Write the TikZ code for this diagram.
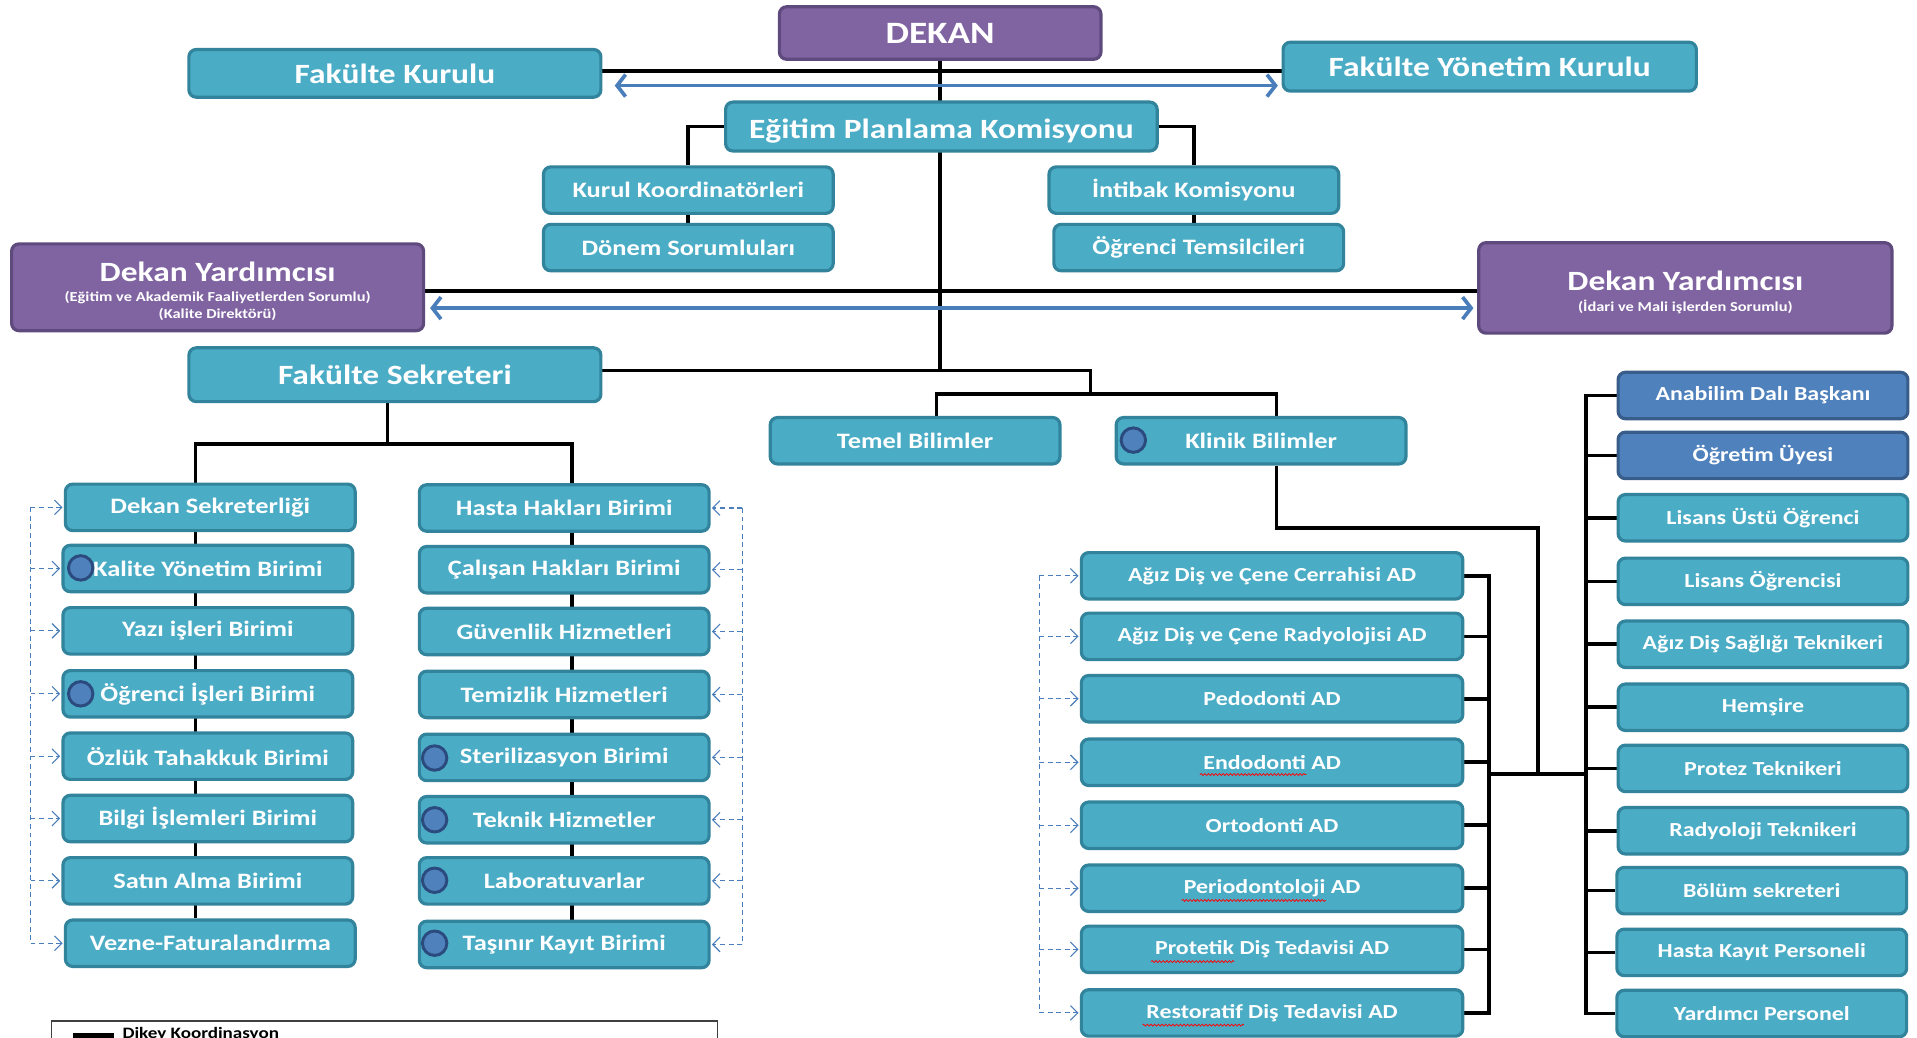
\documentclass[tikz,border=0pt]{standalone}
\usepackage{fontspec}
\setmainfont{Carlito}[FakeStretch=1.2]
\usetikzlibrary{arrows.meta,decorations.pathmorphing,backgrounds}
\definecolor{tealF}{HTML}{4BACC6}
\definecolor{tealD}{HTML}{31849B}
\definecolor{purpF}{HTML}{8064A2}
\definecolor{purpD}{HTML}{5F4A7D}
\definecolor{dbF}{HTML}{4F81BD}
\definecolor{dbD}{HTML}{385D8A}
\definecolor{arrB}{HTML}{4A7EBB}
\definecolor{dotF}{HTML}{4F81BD}
\definecolor{dotD}{HTML}{2B4A7E}
\tikzset{
  boxbase/.style={rounded corners=6pt, line width=2.6pt, inner sep=0pt, align=center, text=white, font=\bfseries},
  tealbox/.style={boxbase, fill=tealF, draw=tealD},
  purpbox/.style={boxbase, fill=purpF, draw=purpD},
  dbbox/.style={boxbase, fill=dbF, draw=dbD},
  bigt/.style={font=\bfseries\fontsize{22.8}{26}\selectfont},
  medt/.style={font=\bfseries\fontsize{18}{21}\selectfont},
  smt/.style={font=\bfseries\fontsize{16.3}{19}\selectfont},
  colbox/.style={tealbox, medt, minimum width=237, minimum height=38},
  adbox/.style={tealbox, smt, minimum width=312, minimum height=38},
  pbox/.style={tealbox, smt, minimum width=237, minimum height=38},
  conn/.style={line width=3pt, black},
  barrow/.style={line width=3pt, arrB, {Straight Barb[length=7pt,width=18pt]}-{Straight Barb[length=7pt,width=18pt]}},
  dline/.style={dash pattern=on 4pt off 3pt, line width=0.9pt, arrB},
  darr/.style={dline, -{Straight Barb[length=6pt,width=12pt]}},
  dotn/.style={circle, fill=dotF, draw=dotD, line width=2.4pt, minimum size=20pt, inner sep=0pt},
  squig/.style={red, line width=0.6pt, decorate, decoration={snake, segment length=3pt, amplitude=0.8pt}}
}
\begin{document}
\begin{tikzpicture}[x=1pt,y=-1pt]
\clip (0,0) rectangle (1568,849);

% top level
\node[purpbox, font=\bfseries\fontsize{25.4}{28}\selectfont, minimum width=263, minimum height=43] (dekan) at (769,27) {DEKAN};
\node[tealbox, bigt, minimum width=337, minimum height=39] (fk) at (323,60) {Fakülte Kurulu};
\node[tealbox, bigt, minimum width=338, minimum height=40] (fyk) at (1218.5,54.5) {Fakülte Yönetim Kurulu};
\node[tealbox, bigt, minimum width=353, minimum height=40] (epk) at (770,103.5) {\raisebox{-10pt}[0pt][0pt]{Eğitim Planlama Komisyonu}};
\node[colbox] (kurul) at (563,155.5) {Kurul Koordinatörleri};
\node[colbox] (donem) at (563,202.5) {Dönem Sorumluları};
\node[colbox] (intibak) at (976.5,155.5) {İntibak Komisyonu};
\node[colbox] (ogrtem) at (980.5,202.5) {Öğrenci Temsilcileri};

\node[purpbox, minimum width=337, minimum height=71] (dyl) at (178,235)
  {{\fontsize{22.8}{24}\selectfont\rule{0pt}{23pt}Dekan Yardımcısı}\\[4pt]{\fontsize{11.2}{12}\selectfont (Eğitim ve Akademik Faaliyetlerden Sorumlu)}\\[2pt]{\fontsize{11.2}{12}\selectfont (Kalite Direktörü)}};
\node[purpbox, minimum width=338, minimum height=74] (dyr) at (1378.5,235.5)
  {{\fontsize{22.8}{24}\selectfont\rule{0pt}{23pt}Dekan Yardımcısı}\\[5pt]{\fontsize{11.2}{12}\selectfont (İdari ve Mali işlerden Sorumlu)}};

\node[tealbox, bigt, minimum width=337, minimum height=44] (fs) at (323,306.5) {Fakülte Sekreteri};
\node[colbox] (temel) at (748.5,360.5) {Temel Bilimler};
\node[colbox] (klinik) at (1031.5,360.5) {Klinik Bilimler};

% left column
\node[colbox] (l1) at (172,415) {Dekan Sekreterliği};
\node[colbox] (l2) at (170,465) {Kalite Yönetim Birimi};
\node[colbox] (l3) at (170,516) {Yazı işleri Birimi};
\node[colbox] (l4) at (170,567.5) {Öğrenci İşleri Birimi};
\node[colbox] (l5) at (170,618.5) {Özlük Tahakkuk Birimi};
\node[colbox] (l6) at (170,669.5) {Bilgi İşlemleri Birimi};
\node[colbox] (l7) at (170,720.5) {Satın Alma Birimi};
\node[colbox] (l8) at (172,771.5) {Vezne-Faturalandırma};

% second column
\node[colbox] (s1) at (461.5,415.5) {Hasta Hakları Birimi};
\node[colbox] (s2) at (461.5,466) {Çalışan Hakları Birimi};
\node[colbox] (s3) at (461.5,516.5) {Güvenlik Hizmetleri};
\node[colbox] (s4) at (461.5,568) {Temizlik Hizmetleri};
\node[colbox] (s5) at (461.5,619.5) {Sterilizasyon Birimi};
\node[colbox] (s6) at (461.5,670.5) {Teknik Hizmetler};
\node[colbox] (s7) at (461.5,720.5) {Laboratuvarlar};
\node[colbox] (s8) at (461.5,772.5) {Taşınır Kayıt Birimi};

% AD column
\node[adbox] (a1) at (1040.5,471) {Ağız Diş ve Çene Cerrahisi AD};
\node[adbox] (a2) at (1040.5,520.5) {Ağız Diş ve Çene Radyolojisi AD};
\node[adbox] (a3) at (1040.5,571.5) {Pedodonti AD};
\node[adbox] (a4) at (1040.5,623.5) {Endodonti AD};
\node[adbox] (a5) at (1040.5,675) {Ortodonti AD};
\node[adbox] (a6) at (1040.5,726.5) {Periodontoloji AD};
\node[adbox] (a7) at (1040.5,776.5) {Protetik Diş Tedavisi AD};
\node[adbox] (a8) at (1040.5,828.5) {Restoratif Diş Tedavisi AD};

% personnel column
\node[dbbox, smt, minimum width=237, minimum height=38] (p1) at (1442,323.5) {Anabilim Dalı Başkanı};
\node[dbbox, smt, minimum width=237, minimum height=38] (p2) at (1442,372.5) {Öğretim Üyesi};
\node[pbox] (p3) at (1442,423.5) {Lisans Üstü Öğrenci};
\node[pbox] (p4) at (1442,475.5) {Lisans Öğrencisi};
\node[pbox] (p5) at (1442,527) {Ağız Diş Sağlığı Teknikeri};
\node[pbox] (p6) at (1442,578.5) {Hemşire};
\node[pbox] (p7) at (1442,628.5) {Protez Teknikeri};
\node[pbox] (p8) at (1442,679.5) {Radyoloji Teknikeri};
\node[pbox] (p9) at (1441,728.5) {Bölüm sekreteri};
\node[pbox] (p10) at (1441,779) {Hasta Kayıt Personeli};
\node[pbox] (p11) at (1441,829) {Yardımcı Personel};

% dots
\node[dotn] (d1) at (66,464.5) {};
\node[dotn] (d2) at (66,567.5) {};
\node[dotn] (d3) at (355.5,620) {};
\node[dotn] (d4) at (355.5,670.5) {};
\node[dotn] (d5) at (355.5,720) {};
\node[dotn] (d6) at (355.5,771.5) {};
\node[dotn] (d7) at (927,360) {};

% connectors
\begin{scope}[on background layer]
\fill[white] (0,0) rectangle (1568,849);
\coordinate (lineA) at (0,58);
\coordinate (lineB) at (0,238);
\coordinate (j1) at (769,303);
\coordinate (j2) at (892,303);
\coordinate (j3) at (892,322);
\coordinate (tx) at (766,0);
\coordinate (kx) at (1044,0);
\coordinate (k2) at (1258,432);
\coordinate (jn) at (1258,633);
\coordinate (busA) at (1218,0);
\coordinate (busB) at (1297,0);
\coordinate (fsx) at (317,363);
\coordinate (lx) at (160,0);
\coordinate (rx) at (468,0);
\draw[conn] (dekan.south) -- (j1);
\draw[conn] (fk.east |- lineA) -- (fyk.west |- lineA);
\draw[conn] (epk.west) -| (kurul.north);
\draw[conn] (epk.east) -| (intibak.north);
\draw[conn] (kurul.south) -- (donem.north);
\draw[conn] (intibak.south) -- (intibak.south |- ogrtem.north);
\draw[conn] (dyl.east |- lineB) -- (dyr.west |- lineB);
\draw[conn] (fs.east |- j1) -- (j2) -- (j3);
\draw[conn] (temel.north -| tx) |- (j3) -| (klinik.north -| kx);
\draw[conn] (klinik.south -| kx) |- (k2) -- (jn);
\draw[conn] (jn -| busA) -- (jn -| busB);
\draw[conn] (a1.east) -| (a8.east -| busA) -- (a8.east);
\foreach \i in {2,...,7} \draw[conn] (a\i.east) -- (a\i.east -| busA);
\draw[conn] (p1.west) -| (p11.west -| busB) -- (p11.west);
\foreach \i in {2,...,10} \draw[conn] (p\i.west) -- (p\i.west -| busB);
\draw[conn] (fs.south -| fsx) -- (fsx);
\draw[conn] (l1.north -| lx) |- (fsx) -| (s1.north -| rx);
\draw[conn] (l1.south -| lx) -- (l8.north -| lx);
\draw[conn] (s1.south -| rx) -- (s8.north -| rx);
\end{scope}

% blue double arrows
\coordinate (arrA) at (0,70);
\coordinate (arrB) at (0,252);
\draw[barrow] ([xshift=10pt]fk.east |- arrA) -- ([xshift=-3pt]fyk.west |- arrA);
\draw[barrow] ([xshift=4pt]dyl.east |- arrB) -- ([xshift=-3pt]dyr.west |- arrB);

% dashed coordination arrows
\coordinate (dl) at (25,0);
\coordinate (dr) at (607,0);
\coordinate (da) at (850,0);
\draw[dline] (l1.west -| dl) -- (l8.west -| dl);
\foreach \i in {1,...,8} \draw[darr] (l\i.west -| dl) -- ([xshift=-1pt]l\i.west);
\draw[dline] (s1.east -| dr) -- (s8.east -| dr);
\foreach \i in {1,...,8} \draw[darr] (s\i.east -| dr) -- ([xshift=1pt]s\i.east);
\draw[dline] (a1.west -| da) -- (a8.west -| da);
\foreach \i in {1,...,8} \draw[darr] (a\i.west -| da) -- ([xshift=-1pt]a\i.west);

% spelling marks
\draw[squig] ([xshift=-59pt,yshift=-10pt]a4.center) -- ([xshift=28pt,yshift=-10pt]a4.center);
\draw[squig] ([xshift=-74pt,yshift=-10pt]a6.center) -- ([xshift=44pt,yshift=-10pt]a6.center);
\draw[squig] ([xshift=-99pt,yshift=-10pt]a7.center) -- ([xshift=-31pt,yshift=-10pt]a7.center);
\draw[squig] ([xshift=-106pt,yshift=-10pt]a8.center) -- ([xshift=-23pt,yshift=-10pt]a8.center);

% legend (cut off by the picture's lower edge)
\draw[line width=1.2pt, black!75] (42,835) rectangle (587,900);
\draw[line width=4pt] (60,847) -- (93,847);
\node[anchor=north west, inner sep=0pt, font=\bfseries\fontsize{13}{15}\selectfont] (legtext) at (100,840) {Dikey Koordinasyon};
\end{tikzpicture}
\end{document}
